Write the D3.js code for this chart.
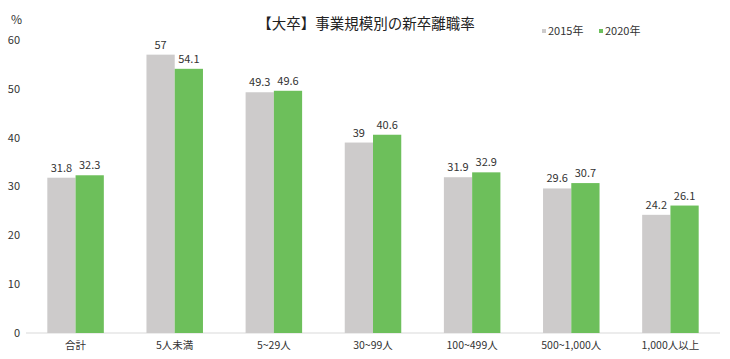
<!DOCTYPE html>
<html lang="ja">
<head>
  <meta charset="UTF-8">
  <title>【大卒】事業規模別の新卒離職率</title>
  <script src="https://d3js.org/d3.v7.min.js"></script>
  <style>
    body {
      margin: 0;
      background: #fff;
      font-family: "Noto Sans CJK JP", "Noto Sans", sans-serif;
    }
    svg text { fill: #333; }
  </style>
</head>
<body>
  <div id="chart"></div>
  <script>
    const categories = ["合計", "5人未満", "5~29人", "30~99人", "100~499人", "500~1,000人", "1,000人以上"];
    const series = ["2015年", "2020年"];
    const values2015 = [31.8, 57, 49.3, 39, 31.9, 29.6, 24.2];
    const values2020 = [32.3, 54.1, 49.6, 40.6, 32.9, 30.7, 26.1];
    const yTicks = [0, 10, 20, 30, 40, 50, 60];
    const colors = ["#cdcbcb", "#6dbf5b"];

    const width = 730, height = 359;
    const svg = d3.select("#chart").append("svg")
      .attr("width", width).attr("height", height);

    const x = d3.scaleBand().domain(categories).range([26, 720]).paddingInner(0.43).paddingOuter(0.215);
    const xs = d3.scaleBand().domain(series).range([0, x.bandwidth()]);
    const y = d3.scaleLinear().domain([0, 60]).range([333, 40]);

    // y軸ラベル
    svg.append("g").selectAll("text")
      .data(yTicks).join("text")
      .attr("x", 20).attr("y", d => y(d)).attr("dy", "0.35em")
      .attr("text-anchor", "end")
      .style("font-size", "11px")
      .text(d => d);

    svg.append("text").attr("x", 11).attr("y", 24)
      .style("font-size", "12px").text("%");

    // x軸
    svg.append("line")
      .attr("x1", 26).attr("x2", 720)
      .attr("y1", y(0)).attr("y2", y(0))
      .attr("stroke", "#d9d9d9").attr("stroke-width", 1);

    svg.append("g").selectAll("text")
      .data(categories).join("text")
      .attr("x", d => x(d) + x.bandwidth() / 2)
      .attr("y", 349)
      .attr("text-anchor", "middle")
      .style("font-size", "10.5px")
      .text(d => d);

    const rows = categories.map((c, i) => ({ c, vals: [values2015[i], values2020[i]] }));

    const groups = svg.append("g").selectAll("g")
      .data(rows).join("g")
      .attr("transform", d => `translate(${x(d.c)},0)`);

    groups.selectAll("rect")
      .data(d => d.vals.map((v, j) => ({ s: series[j], v, j })))
      .join("rect")
      .attr("x", d => xs(d.s))
      .attr("y", d => y(d.v))
      .attr("width", xs.bandwidth())
      .attr("height", d => y(0) - y(d.v))
      .attr("fill", d => colors[d.j]);

    groups.selectAll("text")
      .data(d => d.vals.map((v, j) => ({ s: series[j], v, j })))
      .join("text")
      .attr("x", d => xs(d.s) + xs.bandwidth() / 2)
      .attr("y", d => y(d.v) - 6)
      .attr("text-anchor", "middle")
      .style("font-size", "11px")
      .text(d => d.v);

    // タイトル
    svg.append("text")
      .attr("x", 366).attr("y", 29)
      .attr("text-anchor", "middle")
      .style("font-size", "14.5px")
      .style("fill", "#222")
      .text("【大卒】事業規模別の新卒離職率");

    // 凡例
    const legend = svg.append("g").selectAll("g")
      .data(series).join("g")
      .attr("transform", (d, i) => `translate(${542 + i * 57},31)`);
    legend.append("rect").attr("x", 0).attr("y", -2).attr("width", 4).attr("height", 4)
      .attr("fill", (d, i) => colors[i]);
    legend.append("text").attr("x", 6).attr("dy", "0.35em")
      .style("font-size", "11px").text(d => d);
  </script>
</body>
</html>
